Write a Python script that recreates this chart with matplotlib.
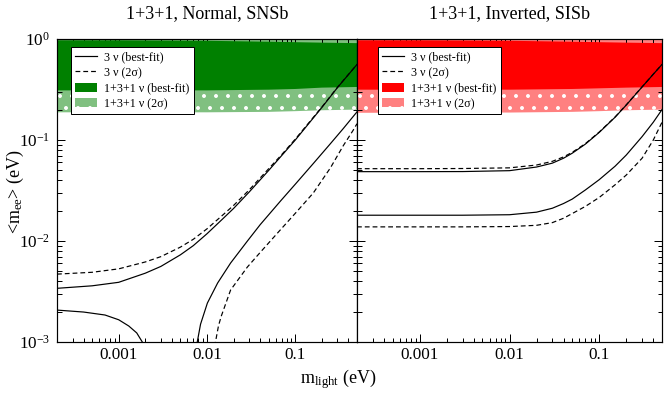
import matplotlib
matplotlib.use('Agg')
import matplotlib.pyplot as plt
from matplotlib.patches import Patch
from matplotlib.lines import Line2D
from matplotlib.ticker import LogLocator, FixedLocator, FixedFormatter, NullFormatter

plt.rcParams['font.family'] = ['Liberation Serif', 'DejaVu Serif']
plt.rcParams['mathtext.fontset'] = 'custom'
plt.rcParams['mathtext.rm'] = 'Liberation Serif'
plt.rcParams['mathtext.it'] = 'Liberation Serif:italic'
plt.rcParams['mathtext.bf'] = 'Liberation Serif:bold'
plt.rcParams['hatch.linewidth'] = 1.5

# ---------------- data ----------------
titles = ['1+3+1, Normal, SNSb', '1+3+1, Inverted, SISb']
legend_labels = ['3 ν (best-fit)', '3 ν (2σ)', '1+3+1 ν (best-fit)', '1+3+1 ν (2σ)']
xtick_vals = [1e-3, 1e-2, 1e-1]
xtick_labels = ['0.001', '0.01', '0.1']
xlim = (2e-4, 0.5)
ylim = (1e-3, 1.0)

# Normal hierarchy, 3 nu
nh_x = [2e-4, 5e-4, 1e-3, 2e-3, 3e-3, 5e-3, 7e-3, 0.01, 0.015, 0.02, 0.03, 0.05, 0.07,
        0.1, 0.2, 0.3, 0.5]
nh_max_bf = [3.4e-3, 3.6e-3, 3.9e-3, 4.8e-3, 5.6e-3, 7.3e-3, 9.0e-3, 0.0118, 0.0165, 0.021,
             0.0305, 0.050, 0.070, 0.100, 0.21, 0.33, 0.56]
nh_max_2s = [4.7e-3, 4.9e-3, 5.3e-3, 6.2e-3, 7.0e-3, 8.7e-3, 0.0104, 0.0132, 0.018, 0.0225,
             0.032, 0.052, 0.0715, 0.102, 0.212, 0.332, 0.56]
nh_min_bf_a_x = [2e-4, 4e-4, 7e-4, 1e-3, 1.3e-3, 1.6e-3, 1.85e-3, 2.0e-3]
nh_min_bf_a = [2.07e-3, 1.98e-3, 1.85e-3, 1.66e-3, 1.44e-3, 1.23e-3, 1.0e-3, 7e-4]
nh_min_bf_b_x = [7.4e-3, 8.45e-3, 0.0101, 0.0132, 0.0185, 0.0287, 0.04, 0.0678, 0.1, 0.16,
                 0.25, 0.35, 0.5]
nh_min_bf_b = [8e-4, 1.5e-3, 2.43e-3, 3.84e-3, 6.05e-3, 0.0100, 0.0145, 0.0248, 0.0365,
               0.0585, 0.092, 0.13, 0.19]
nh_min_2s_x = [0.0122, 0.0135, 0.0145, 0.0185, 0.0287, 0.04, 0.0678, 0.1, 0.16, 0.25, 0.35,
               0.45, 0.5]
nh_min_2s = [9e-4, 1.45e-3, 1.8e-3, 3.27e-3, 5.53e-3, 7.7e-3, 0.0129, 0.0188, 0.0299, 0.053,
             0.088, 0.124, 0.145]

# Inverted hierarchy, 3 nu
ih_x = [2e-4, 1e-3, 3e-3, 0.01, 0.02, 0.03, 0.04, 0.05, 0.07, 0.1, 0.15, 0.2, 0.3, 0.4, 0.5]
ih_max_bf = [0.0486, 0.0486, 0.0487, 0.0497, 0.054, 0.059, 0.066, 0.074, 0.091, 0.119, 0.168,
             0.222, 0.335, 0.448, 0.56]
ih_max_2s = [0.052, 0.052, 0.0522, 0.053, 0.0565, 0.0615, 0.068, 0.0755, 0.092, 0.120, 0.169,
             0.223, 0.336, 0.449, 0.56]
ih_min_bf = [0.018, 0.018, 0.018, 0.0182, 0.0193, 0.0211, 0.0235, 0.026, 0.032, 0.0405, 0.055,
             0.071, 0.108, 0.15, 0.20]
ih_min_2s = [0.0138, 0.0138, 0.0138, 0.0139, 0.0143, 0.0152, 0.0168, 0.0187, 0.022, 0.027,
             0.036, 0.045, 0.066, 0.10, 0.15]

# 1+3+1 bands
band_x = [2e-4, 1e-3, 0.01, 0.05, 0.1, 0.2, 0.5]
nh_bf_lo = [0.31, 0.31, 0.31, 0.315, 0.32, 0.33, 0.335]
nh_bf_hi = [0.97, 0.97, 0.96, 0.94, 0.93, 0.92, 0.91]
nh_2s_lo = [0.188, 0.188, 0.188, 0.19, 0.193, 0.197, 0.20]
nh_2s_hi = [1.0, 1.0, 1.0, 1.0, 1.0, 1.0, 1.0]
ih_bf_lo = [0.315, 0.315, 0.315, 0.32, 0.325, 0.33, 0.335]
ih_bf_hi = [0.97, 0.97, 0.96, 0.94, 0.93, 0.92, 0.91]
ih_2s_lo = [0.186, 0.186, 0.187, 0.19, 0.193, 0.197, 0.20]
ih_2s_hi = [1.0, 1.0, 1.0, 1.0, 1.0, 1.0, 1.0]

# ---------------- figure ----------------
DPI = 72
W, H = 664, 394
fig = plt.figure(figsize=(W / DPI, H / DPI), dpi=DPI)
ax1 = fig.add_axes([57 / W, (H - 342) / H, 300 / W, 303 / H])
ax2 = fig.add_axes([357 / W, (H - 342) / H, 305 / W, 303 / H])

LW = 1.2
DASH = (4, 2.5)


def draw_band(ax, lo2, hi2, lo1, hi1, dark, light):
    ax.fill_between(band_x, lo2, hi2, facecolor=light, edgecolor='none', linewidth=0, zorder=1)
    ax.fill_between(band_x, lo2, lo1, facecolor='none', edgecolor='white', hatch='.',
                    linewidth=0, zorder=1.5)
    ax.fill_between(band_x, lo1, hi1, facecolor=dark, edgecolor='none', linewidth=0, zorder=2)


draw_band(ax1, nh_2s_lo, nh_2s_hi, nh_bf_lo, nh_bf_hi, '#008000', '#80c080')
draw_band(ax2, ih_2s_lo, ih_2s_hi, ih_bf_lo, ih_bf_hi, '#ff0000', '#ff8080')

k = dict(color='black', lw=LW, zorder=3)
ax1.plot(nh_x, nh_max_bf, **k)
ax1.plot(nh_x, nh_max_2s, dashes=DASH, **k)
ax1.plot(nh_min_bf_a_x, nh_min_bf_a, **k)
ax1.plot(nh_min_bf_b_x, nh_min_bf_b, **k)
ax1.plot(nh_min_2s_x, nh_min_2s, dashes=DASH, **k)

ax2.plot(ih_x, ih_max_bf, **k)
ax2.plot(ih_x, ih_max_2s, dashes=DASH, **k)
ax2.plot(ih_x, ih_min_bf, **k)
ax2.plot(ih_x, ih_min_2s, dashes=DASH, **k)

for ax, title, dark, light, lx in [(ax1, titles[0], '#008000', '#80c080', 14 / 300),
                                     (ax2, titles[1], '#ff0000', '#ff8080', 21 / 305)]:
    ax.set_xscale('log')
    ax.set_yscale('log')
    ax.set_xlim(*xlim)
    ax.set_ylim(*ylim)
    ax.xaxis.set_major_locator(FixedLocator(xtick_vals))
    ax.xaxis.set_major_formatter(FixedFormatter(xtick_labels))
    ax.xaxis.set_minor_locator(LogLocator(base=10, subs=range(2, 10), numticks=30))
    ax.xaxis.set_minor_formatter(NullFormatter())
    ax.yaxis.set_minor_locator(LogLocator(base=10, subs=range(2, 10), numticks=30))
    ax.yaxis.set_minor_formatter(NullFormatter())
    ax.tick_params(which='both', direction='in', top=True, right=True, width=1.0)
    ax.tick_params(which='major', length=8)
    ax.tick_params(which='minor', length=4.5)
    ax.tick_params(axis='x', which='major', labelsize=17, pad=5)
    ax.tick_params(axis='y', which='major', labelsize=17, pad=7)
    for s in ax.spines.values():
        s.set_linewidth(1.2)
        s.set_zorder(5)
    handles = [Line2D([], [], color='black', lw=LW),
               Line2D([], [], color='black', lw=LW, dashes=DASH),
               Patch(facecolor=dark, edgecolor='none', linewidth=0),
               Patch(facecolor=light, edgecolor='white', hatch='.', linewidth=0)]
    leg = ax.legend(handles, legend_labels, loc='upper left',
                    bbox_to_anchor=(lx, 1 - 8 / 303), fontsize=12, frameon=True,
                    fancybox=False, edgecolor='black', framealpha=1,
                    handlelength=1.8, handleheight=0.8, labelspacing=0.3,
                    borderpad=0.35, handletextpad=0.6, borderaxespad=0)
    leg.get_frame().set_linewidth(1.0)
    leg.set_zorder(6)
    cx = (ax.get_position().x0 + ax.get_position().x1) / 2
    fig.text(cx, 1 - 18 / H, title, ha='center', va='baseline', fontsize=18)

ax2.tick_params(axis='y', which='both', labelleft=False)

fig.text(15 / W, 1 - 192 / H, r'<m$_{\mathrm{ee}}$> (eV)', rotation=90,
         ha='center', va='center', fontsize=18)
fig.text(338 / W, 1 - 383 / H, r'm$_{\mathrm{light}}$ (eV)', ha='center', va='baseline',
         fontsize=18)

fig.savefig('out.png', dpi=DPI)
